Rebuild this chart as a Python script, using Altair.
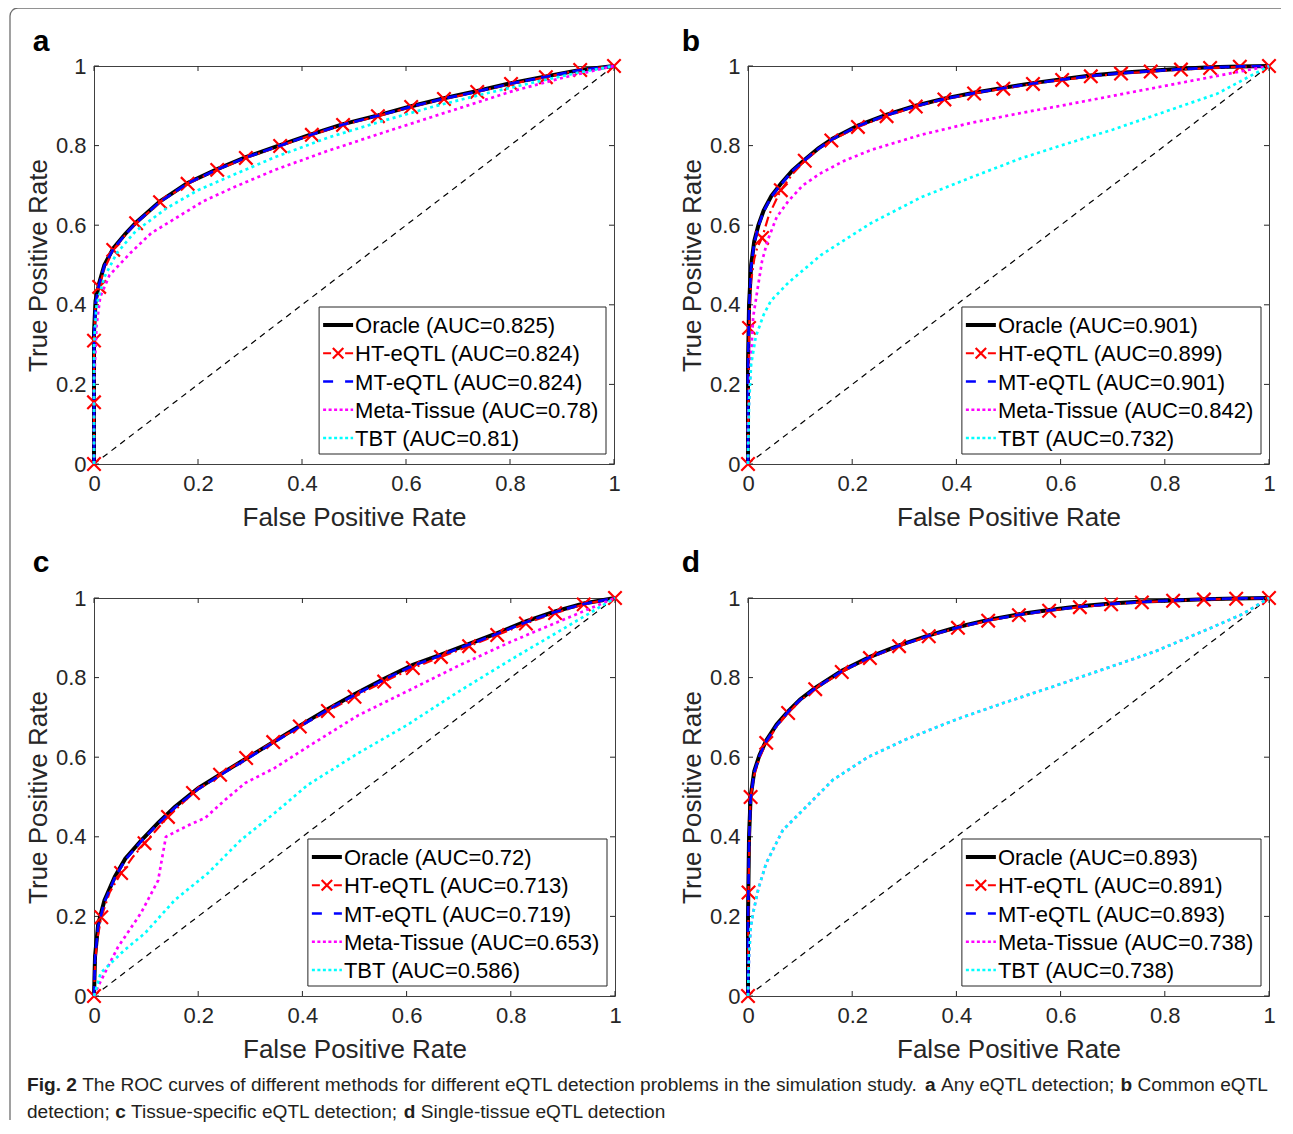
import altair as alt
import pandas as pd

# ---------------- data ----------------
TICKS = [0, 0.2, 0.4, 0.6, 0.8, 1]
METHODS = ["Oracle", "HT-eQTL", "MT-eQTL", "Meta-Tissue", "TBT"]
A_AUC = ["0.825", "0.824", "0.824", "0.78", "0.81"]
B_AUC = ["0.901", "0.899", "0.901", "0.842", "0.732"]
C_AUC = ["0.72", "0.713", "0.719", "0.653", "0.586"]
D_AUC = ["0.893", "0.891", "0.893", "0.738", "0.738"]
LETTERS = ["a", "b", "c", "d"]

# (FPR, TPR) pairs
a_oracle = [(0, 0), (0, 0.33), (0.003, 0.41), (0.01, 0.455), (0.02, 0.5), (0.037, 0.542), (0.06, 0.578), (0.081, 0.607), (0.127, 0.66), (0.18, 0.706), (0.237, 0.741), (0.292, 0.771), (0.358, 0.801), (0.419, 0.829), (0.479, 0.854), (0.546, 0.876), (0.61, 0.899), (0.673, 0.919), (0.737, 0.937), (0.802, 0.957), (0.869, 0.974), (0.935, 0.99), (1, 1)]
a_ht = [(0, 0), (0, 0.155), (0, 0.31), (0.003, 0.4), (0.01, 0.445), (0.02, 0.49), (0.037, 0.538), (0.06, 0.575), (0.081, 0.605), (0.127, 0.658), (0.18, 0.704), (0.237, 0.739), (0.292, 0.769), (0.358, 0.799), (0.419, 0.827), (0.479, 0.852), (0.546, 0.874), (0.61, 0.897), (0.673, 0.917), (0.737, 0.935), (0.802, 0.955), (0.869, 0.972), (0.935, 0.99), (1, 1)]
a_ht_marks = [(0, 0), (0, 0.155), (0, 0.31), (0.01, 0.445), (0.037, 0.538), (0.081, 0.605), (0.127, 0.658), (0.18, 0.704), (0.237, 0.739), (0.292, 0.769), (0.358, 0.799), (0.419, 0.827), (0.479, 0.852), (0.546, 0.874), (0.61, 0.897), (0.673, 0.917), (0.737, 0.935), (0.802, 0.955), (0.869, 0.972), (0.935, 0.99), (1, 1)]
a_mt = [(0, 0), (0, 0.32), (0.003, 0.405), (0.01, 0.452), (0.02, 0.498), (0.037, 0.54), (0.06, 0.576), (0.081, 0.606), (0.127, 0.659), (0.18, 0.705), (0.237, 0.74), (0.292, 0.77), (0.358, 0.8), (0.419, 0.828), (0.479, 0.853), (0.546, 0.875), (0.61, 0.898), (0.673, 0.918), (0.737, 0.936), (0.802, 0.956), (0.869, 0.973), (0.935, 0.99), (1, 1)]
a_meta = [(0, 0), (0, 0.2), (0.005, 0.35), (0.012, 0.42), (0.03, 0.475), (0.07, 0.53), (0.11, 0.58), (0.16, 0.62), (0.21, 0.66), (0.27, 0.696), (0.35, 0.74), (0.45, 0.787), (0.55, 0.83), (0.65, 0.872), (0.75, 0.914), (0.8, 0.935), (0.9, 0.97), (1, 1)]
a_tbt = [(0, 0), (0, 0.3), (0.005, 0.4), (0.02, 0.47), (0.044, 0.53), (0.08, 0.585), (0.14, 0.643), (0.2, 0.688), (0.267, 0.726), (0.35, 0.772), (0.45, 0.82), (0.55, 0.86), (0.65, 0.897), (0.75, 0.93), (0.85, 0.96), (0.93, 0.983), (1, 1)]

b_oracle = [(0, 0), (0, 0.25), (0.002, 0.4), (0.006, 0.5), (0.012, 0.56), (0.02, 0.6), (0.03, 0.637), (0.045, 0.674), (0.063, 0.704), (0.085, 0.737), (0.111, 0.767), (0.135, 0.793), (0.163, 0.818), (0.211, 0.85), (0.265, 0.877), (0.322, 0.9), (0.376, 0.918), (0.434, 0.933), (0.489, 0.945), (0.547, 0.957), (0.603, 0.967), (0.658, 0.976), (0.716, 0.983), (0.773, 0.988), (0.831, 0.993), (0.887, 0.997), (0.944, 0.999), (1, 1)]
b_ht = [(0, 0), (0.002, 0.342), (0.006, 0.46), (0.012, 0.515), (0.018, 0.545), (0.027, 0.568), (0.04, 0.625), (0.063, 0.688), (0.085, 0.728), (0.109, 0.762), (0.135, 0.79), (0.16, 0.813), (0.211, 0.847), (0.266, 0.874), (0.322, 0.898), (0.377, 0.916), (0.434, 0.931), (0.49, 0.943), (0.547, 0.955), (0.603, 0.965), (0.658, 0.974), (0.716, 0.981), (0.773, 0.986), (0.831, 0.991), (0.887, 0.995), (0.944, 0.998), (1, 1)]
b_ht_marks = [(0, 0), (0.002, 0.342), (0.027, 0.568), (0.063, 0.688), (0.109, 0.762), (0.16, 0.813), (0.211, 0.847), (0.266, 0.874), (0.322, 0.898), (0.377, 0.916), (0.434, 0.931), (0.49, 0.943), (0.547, 0.955), (0.603, 0.965), (0.658, 0.974), (0.716, 0.981), (0.773, 0.986), (0.831, 0.991), (0.887, 0.995), (0.944, 0.998), (1, 1)]
b_mt = [(0, 0), (0, 0.24), (0.002, 0.39), (0.006, 0.495), (0.012, 0.556), (0.02, 0.597), (0.03, 0.635), (0.045, 0.672), (0.063, 0.702), (0.085, 0.736), (0.111, 0.766), (0.135, 0.792), (0.163, 0.817), (0.211, 0.849), (0.265, 0.876), (0.322, 0.899), (0.376, 0.917), (0.434, 0.932), (0.489, 0.944), (0.547, 0.956), (0.603, 0.966), (0.658, 0.975), (0.716, 0.982), (0.773, 0.987), (0.831, 0.992), (0.887, 0.996), (0.944, 0.999), (1, 1)]
b_meta = [(0, 0), (0, 0.1), (0.005, 0.25), (0.01, 0.37), (0.019, 0.445), (0.027, 0.51), (0.038, 0.563), (0.055, 0.62), (0.077, 0.66), (0.105, 0.7), (0.14, 0.731), (0.185, 0.762), (0.236, 0.789), (0.332, 0.827), (0.428, 0.857), (0.524, 0.882), (0.6, 0.9), (0.7, 0.925), (0.8, 0.95), (0.9, 0.975), (1, 1)]
b_tbt = [(0, 0), (0.002, 0.15), (0.006, 0.25), (0.015, 0.32), (0.03, 0.375), (0.044, 0.41), (0.077, 0.455), (0.14, 0.525), (0.236, 0.605), (0.332, 0.67), (0.428, 0.72), (0.524, 0.768), (0.6, 0.8), (0.7, 0.84), (0.8, 0.885), (0.9, 0.93), (1, 1)]

c_oracle = [(0, 0), (0.002, 0.1), (0.008, 0.18), (0.02, 0.24), (0.04, 0.3), (0.06, 0.345), (0.09, 0.39), (0.123, 0.435), (0.155, 0.475), (0.2, 0.522), (0.25, 0.563), (0.3, 0.603), (0.35, 0.643), (0.4, 0.683), (0.45, 0.722), (0.5, 0.758), (0.557, 0.797), (0.612, 0.832), (0.666, 0.858), (0.72, 0.885), (0.774, 0.912), (0.829, 0.941), (0.885, 0.966), (0.94, 0.986), (1, 1)]
c_ht = [(0, 0), (0.002, 0.08), (0.006, 0.14), (0.014, 0.198), (0.03, 0.26), (0.052, 0.309), (0.075, 0.35), (0.097, 0.384), (0.142, 0.45), (0.19, 0.51), (0.242, 0.556), (0.292, 0.598), (0.344, 0.638), (0.395, 0.677), (0.449, 0.716), (0.5, 0.752), (0.557, 0.79), (0.612, 0.824), (0.666, 0.852), (0.72, 0.879), (0.774, 0.907), (0.829, 0.936), (0.885, 0.962), (0.94, 0.984), (1, 1)]
c_ht_marks = [(0, 0), (0.014, 0.198), (0.052, 0.309), (0.097, 0.384), (0.142, 0.45), (0.19, 0.51), (0.242, 0.556), (0.292, 0.598), (0.344, 0.638), (0.395, 0.677), (0.449, 0.716), (0.5, 0.752), (0.557, 0.79), (0.612, 0.824), (0.666, 0.852), (0.72, 0.879), (0.774, 0.907), (0.829, 0.936), (0.885, 0.962), (0.94, 0.984), (1, 1)]
c_mt = [(0, 0), (0.002, 0.095), (0.008, 0.175), (0.02, 0.236), (0.04, 0.297), (0.06, 0.342), (0.09, 0.388), (0.123, 0.433), (0.155, 0.473), (0.2, 0.52), (0.25, 0.561), (0.3, 0.601), (0.35, 0.641), (0.4, 0.681), (0.45, 0.72), (0.5, 0.756), (0.557, 0.795), (0.612, 0.83), (0.666, 0.856), (0.72, 0.883), (0.774, 0.91), (0.829, 0.939), (0.885, 0.965), (0.94, 0.985), (1, 1)]
c_meta = [(0, 0), (0.01, 0.03), (0.046, 0.123), (0.09, 0.208), (0.123, 0.29), (0.138, 0.4), (0.16, 0.415), (0.186, 0.432), (0.213, 0.447), (0.251, 0.492), (0.29, 0.535), (0.347, 0.573), (0.41, 0.626), (0.507, 0.705), (0.6, 0.765), (0.7, 0.83), (0.8, 0.89), (0.9, 0.945), (1, 1)]
c_tbt = [(0, 0), (0.013, 0.058), (0.059, 0.116), (0.098, 0.158), (0.155, 0.241), (0.219, 0.309), (0.282, 0.392), (0.347, 0.46), (0.41, 0.53), (0.507, 0.61), (0.6, 0.68), (0.7, 0.765), (0.8, 0.845), (0.9, 0.922), (1, 1)]

d_oracle = [(0, 0), (0, 0.2), (0.002, 0.4), (0.005, 0.5), (0.012, 0.565), (0.022, 0.605), (0.035, 0.642), (0.055, 0.682), (0.077, 0.715), (0.1, 0.745), (0.129, 0.774), (0.18, 0.817), (0.234, 0.852), (0.29, 0.881), (0.347, 0.906), (0.403, 0.927), (0.461, 0.945), (0.52, 0.959), (0.578, 0.97), (0.637, 0.979), (0.697, 0.986), (0.756, 0.991), (0.816, 0.994), (0.875, 0.997), (0.937, 0.999), (1, 1)]
d_ht = [(0, 0), (0.001, 0.26), (0.003, 0.42), (0.005, 0.5), (0.012, 0.555), (0.022, 0.598), (0.035, 0.636), (0.055, 0.677), (0.077, 0.711), (0.1, 0.742), (0.129, 0.771), (0.18, 0.814), (0.234, 0.849), (0.29, 0.879), (0.347, 0.904), (0.403, 0.925), (0.461, 0.943), (0.52, 0.957), (0.578, 0.968), (0.637, 0.977), (0.697, 0.984), (0.756, 0.989), (0.816, 0.993), (0.875, 0.996), (0.937, 0.998), (1, 1)]
d_ht_marks = [(0, 0), (0.001, 0.26), (0.005, 0.5), (0.035, 0.636), (0.077, 0.711), (0.129, 0.771), (0.18, 0.814), (0.234, 0.849), (0.29, 0.879), (0.347, 0.904), (0.403, 0.925), (0.461, 0.943), (0.52, 0.957), (0.578, 0.968), (0.637, 0.977), (0.697, 0.984), (0.756, 0.989), (0.816, 0.993), (0.875, 0.996), (0.937, 0.998), (1, 1)]
d_mt = [(0, 0), (0, 0.19), (0.002, 0.39), (0.005, 0.495), (0.012, 0.562), (0.022, 0.603), (0.035, 0.64), (0.055, 0.68), (0.077, 0.714), (0.1, 0.744), (0.129, 0.773), (0.18, 0.816), (0.234, 0.851), (0.29, 0.88), (0.347, 0.905), (0.403, 0.926), (0.461, 0.944), (0.52, 0.958), (0.578, 0.969), (0.637, 0.978), (0.697, 0.985), (0.756, 0.99), (0.816, 0.994), (0.875, 0.997), (0.937, 0.999), (1, 1)]
d_meta = [(0, 0), (0.002, 0.1), (0.005, 0.17), (0.01, 0.21), (0.02, 0.27), (0.035, 0.334), (0.067, 0.417), (0.119, 0.485), (0.163, 0.543), (0.23, 0.6), (0.3, 0.643), (0.4, 0.695), (0.49, 0.736), (0.58, 0.775), (0.68, 0.82), (0.78, 0.865), (0.88, 0.92), (0.95, 0.96), (1, 1)]
d_tbt = [(0, 0), (0.002, 0.1), (0.005, 0.17), (0.01, 0.21), (0.02, 0.27), (0.035, 0.334), (0.067, 0.417), (0.119, 0.485), (0.163, 0.543), (0.23, 0.6), (0.3, 0.643), (0.4, 0.695), (0.49, 0.736), (0.58, 0.775), (0.68, 0.82), (0.78, 0.865), (0.88, 0.92), (0.95, 0.96), (1, 1)]

CAPTION_LINE1 = [("Fig. 2", True), (" The ROC curves of different methods for different eQTL detection problems in the simulation study. ", False), ("a", True), (" Any eQTL detection; ", False), ("b", True), (" Common eQTL", False)]
CAPTION_LINE2 = [("detection; ", False), ("c", True), (" Tissue-specific eQTL detection; ", False), ("d", True), (" Single-tissue eQTL detection", False)]

# ---------------- styling / layout helpers ----------------
FONT = "Liberation Sans"
H = 398
AXC = "#262626"

AR = {" ": 278, "(": 333, ")": 333, ",": 278, "-": 333, ".": 278, ";": 278, "=": 584, ":": 278,
      "A": 667, "B": 667, "C": 722, "D": 722, "E": 667, "F": 611, "G": 778, "H": 722, "I": 278, "J": 500,
      "K": 667, "L": 556, "M": 833, "N": 722, "O": 778, "P": 667, "Q": 778, "R": 722, "S": 667, "T": 611,
      "U": 722, "V": 667, "W": 944, "X": 667, "Y": 667, "Z": 611,
      "a": 556, "b": 556, "c": 500, "d": 556, "e": 556, "f": 278, "g": 556, "h": 556, "i": 222, "j": 222,
      "k": 500, "l": 222, "m": 833, "n": 556, "o": 556, "p": 556, "q": 556, "r": 333, "s": 500, "t": 278,
      "u": 556, "v": 500, "w": 722, "x": 500, "y": 500, "z": 500}
AB = {" ": 278, ".": 278, "F": 611, "a": 556, "b": 611, "c": 556, "d": 611, "g": 611, "i": 278}


def tw(s, bold=False):
    tab = AB if bold else AR
    return sum(tab.get(ch, 556) for ch in s) / 1000.0


def pts_df(pts):
    return pd.DataFrame({"fpr": [p[0] for p in pts], "tpr": [p[1] for p in pts],
                         "i": list(range(len(pts)))})


XS = alt.Scale(domain=[0, 1], nice=False, zero=False)
YS = alt.Scale(domain=[0, 1], nice=False, zero=False)
X_PATH = "M-1,-1L1,1M-1,1L1,-1"

STYLES = [
    dict(color="#000000", strokeWidth=4),
    dict(color="#ff0000", strokeWidth=2.2, strokeDash=[10, 4, 2, 4]),
    dict(color="#0000ff", strokeWidth=2.7, strokeDash=[10, 6]),
    dict(color="#ff00ff", strokeWidth=2.7, strokeDash=[3, 3.5]),
    dict(color="#00ffff", strokeWidth=2.7, strokeDash=[3, 3.5]),
]
LEG_STYLES = [
    dict(color="#000000", strokeWidth=4),
    dict(color="#ff0000", strokeWidth=2.2, strokeDash=[8, 14]),
    dict(color="#0000ff", strokeWidth=2.7, strokeDash=[10, 12]),
    dict(color="#ff00ff", strokeWidth=2.7, strokeDash=[3, 2.5]),
    dict(color="#00ffff", strokeWidth=2.7, strokeDash=[3, 2.5]),
]


def one():
    return pd.DataFrame({"k": [0]})


def panel(w, curves, ht_marks, aucs, letter, lxy):
    layers = []
    xax = alt.Axis(values=TICKS, format="~g", title="False Positive Rate", ticks=False, domain=False,
                   grid=False, labelFlush=False, labelPadding=9, titleX=w / 2, titleY=53,
                   titleBaseline="middle", titleAlign="center")
    yax = alt.Axis(values=TICKS, format="~g", title="True Positive Rate", ticks=False, domain=False,
                   grid=False, labelFlush=False, labelPadding=8, titleX=-56, titleY=H / 2,
                   titleBaseline="middle", titleAlign="center", titleAngle=270)
    XE = lambda f: alt.X(f, scale=XS, axis=xax)
    YE = lambda f: alt.Y(f, scale=YS, axis=yax)
    tdf = pd.DataFrame({"fpr": TICKS, "tpr": TICKS})
    diag = pd.DataFrame({"fpr": [0, 1], "tpr": [0, 1]})
    # diagonal
    layers.append(alt.Chart(diag).mark_line(color="#000000", strokeWidth=1.2, strokeDash=[6, 5]).encode(
        x=XE("fpr:Q"), y=YE("tpr:Q")))
    # inward ticks on all four sides
    layers.append(alt.Chart(tdf).mark_rule(color=AXC, strokeWidth=1).encode(x=XE("fpr:Q"), y=alt.value(H), y2=alt.value(H - 5)))
    layers.append(alt.Chart(tdf).mark_rule(color=AXC, strokeWidth=1).encode(x=XE("fpr:Q"), y=alt.value(0), y2=alt.value(5)))
    layers.append(alt.Chart(tdf).mark_rule(color=AXC, strokeWidth=1).encode(y=YE("tpr:Q"), x=alt.value(0), x2=alt.value(5)))
    layers.append(alt.Chart(tdf).mark_rule(color=AXC, strokeWidth=1).encode(y=YE("tpr:Q"), x=alt.value(w), x2=alt.value(w - 5)))
    # curves
    for k, pts in enumerate(curves):
        layers.append(alt.Chart(pts_df(pts)).mark_line(strokeCap="butt", **STYLES[k]).encode(
            x=XE("fpr:Q"), y=YE("tpr:Q"), order="i:Q"))
        if k == 1:
            layers.append(alt.Chart(pts_df(ht_marks)).mark_point(
                shape=X_PATH, filled=False, stroke="#ff0000", strokeWidth=2.2, size=180, opacity=1).encode(
                x=XE("fpr:Q"), y=YE("tpr:Q")))
    # legend
    labels = [f"{m} (AUC={a})" for m, a in zip(METHODS, aucs)]
    box_w = max(tw(s) for s in labels) * 22 + 43
    right = w - 8
    left = right - box_w
    top = H - 10 - 147
    layers.append(alt.Chart(one()).mark_rect(fill="#ffffff", stroke=AXC, strokeWidth=1).encode(
        x=alt.value(left), x2=alt.value(right), y=alt.value(top), y2=alt.value(top + 147)))
    for k, lab in enumerate(labels):
        yc = top + 18 + 28.25 * k
        layers.append(alt.Chart(one()).mark_rule(strokeCap="butt", **LEG_STYLES[k]).encode(
            x=alt.value(left + 4), x2=alt.value(left + 34), y=alt.value(yc)))
        if k == 1:
            layers.append(alt.Chart(one()).mark_point(
                shape=X_PATH, filled=False, stroke="#ff0000", strokeWidth=2.2, size=110, opacity=1).encode(
                x=alt.value(left + 19), y=alt.value(yc)))
        layers.append(alt.Chart(pd.DataFrame({"s": [lab]})).mark_text(
            font=FONT, fontSize=22, color="#000000", align="left", baseline="middle").encode(
            text="s:N", x=alt.value(left + 36), y=alt.value(yc + 1)))
    # panel letter
    layers.append(alt.Chart(pd.DataFrame({"s": [letter]})).mark_text(
        font=FONT, fontSize=30, fontWeight="bold", color="#000000", align="center", baseline="middle").encode(
        text="s:N", x=alt.value(lxy[0]), y=alt.value(lxy[1])))
    return layers


def frame_layers():
    col = "#6e6e6e"
    return [
        alt.Chart(one()).mark_rule(color=col, strokeWidth=1.3).encode(
            x=alt.value(-76), x2=alt.value(1187), y=alt.value(-58)),
        alt.Chart(one()).mark_rule(color=col, strokeWidth=1.3).encode(
            x=alt.value(-84), y=alt.value(-50), y2=alt.value(1054)),
        alt.Chart(one()).mark_arc(color=col, radius=8.65, radius2=7.35, theta=4.7124, theta2=6.2832).encode(
            x=alt.value(-76), y=alt.value(-50)),
    ]


def caption_layers():
    out = []
    total = sum(tw(t, b) for t, b in CAPTION_LINE1)
    fs = 1241.0 / total
    for line, yc in ((CAPTION_LINE1, 487), (CAPTION_LINE2, 514)):
        cur = -67.0
        for txt, bold in line:
            lead = len(txt) - len(txt.lstrip(" "))
            x0 = cur + lead * tw(" ") * fs
            out.append(alt.Chart(pd.DataFrame({"s": [txt.strip()]})).mark_text(
                font=FONT, fontSize=fs, fontWeight="bold" if bold else "normal", color="#231f20",
                align="left", baseline="middle").encode(
                text="s:N", x=alt.value(x0), y=alt.value(yc)))
            cur += tw(txt, bold) * fs
    return out


pa = alt.layer(*(panel(520, [a_oracle, a_ht, a_mt, a_meta, a_tbt], a_ht_marks, A_AUC, "a", (-53, -24)) + frame_layers())).properties(width=520, height=H)
pb = alt.layer(*panel(521, [b_oracle, b_ht, b_mt, b_meta, b_tbt], b_ht_marks, B_AUC, "b", (-57, -24))).properties(width=521, height=H)
pc = alt.layer(*(panel(521, [c_oracle, c_ht, c_mt, c_meta, c_tbt], c_ht_marks, C_AUC, "c", (-53, -35)) + caption_layers())).properties(width=521, height=H)
pd_ = alt.layer(*panel(521, [d_oracle, d_ht, d_mt, d_meta, d_tbt], d_ht_marks, D_AUC, "d", (-57, -35))).properties(width=521, height=H)

chart = alt.concat(pa, pb, pc, pd_, columns=2, bounds="flush",
                   spacing={"row": 134, "column": 133}).properties(
    padding={"left": 0, "top": -2, "right": 0, "bottom": 0}
).configure_axis(
    labelFont=FONT, titleFont=FONT, labelFontSize=22, titleFontSize=26, labelColor=AXC,
    titleColor=AXC, titleFontWeight="normal"
).configure_view(stroke="#404040", strokeWidth=1)

chart.save("out.html", embed_options={"renderer": "svg", "actions": False})
